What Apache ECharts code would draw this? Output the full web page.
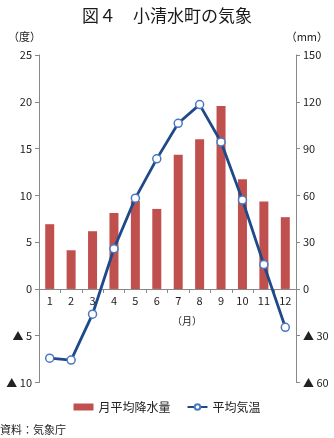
<!DOCTYPE html>
<html><head><meta charset="utf-8">
<script src="https://cdn.jsdelivr.net/npm/echarts@6/dist/echarts.min.js"></script>
<style>html,body{margin:0;padding:0;background:#fff}#c{width:334px;height:438px}</style>
</head><body><div id="c"></div>
<script>
const months = ['1','2','3','4','5','6','7','8','9','10','11','12'];
const precipitation = [41.5, 24.8, 37, 48.7, 56.4, 51.3, 86, 96, 117.3, 70.3, 56, 46];
const temperature = [-7.4, -7.6, -2.7, 4.3, 9.7, 13.9, 17.7, 19.7, 15.7, 9.5, 2.6, -4.1];
const tempTicks = {min: -10, max: 25, interval: 5};
const rainTicks = {min: -60, max: 150, interval: 30};

const FONT = '"Noto Sans CJK JP", "Noto Sans", sans-serif';
const neg = v => v < 0 ? '▲ ' + Math.abs(v) : String(v);
const GRID_TOP = 55, GRID_BOTTOM = 55.5, H = 438;
const gridH = H - GRID_TOP - GRID_BOTTOM;
const zeroOffset = -gridH * (0 - tempTicks.min) / (tempTicks.max - tempTicks.min);
const chart = echarts.init(document.getElementById('c'), null, {renderer: 'canvas'});
chart.setOption({
  animation: false,
  textStyle: {fontFamily: FONT},
  title: {text: '図４　小清水町の気象', left: 'center', top: 2,
    textStyle: {fontFamily: FONT, fontSize: 17, fontWeight: 'normal', color: '#1a1a1a'}},
  grid: {left: 39, right: 38, top: GRID_TOP, bottom: GRID_BOTTOM, containLabel: false},
  legend: {bottom: 20, left: 'center', itemGap: 16, itemWidth: 20, itemHeight: 7,
    textStyle: {fontFamily: FONT, fontSize: 12, color: '#222'},
    data: [{name: '月平均降水量', icon: 'rect'}, {name: '平均気温'}]},
  xAxis: {type: 'category', data: months, boundaryGap: true, offset: zeroOffset,
    axisLine: {onZero: false, lineStyle: {color: '#888', width: 1}},
    axisTick: {show: true, length: 4, lineStyle: {color: '#888'}},
    axisLabel: {fontFamily: FONT, fontSize: 11, color: '#222', margin: 6}},
  yAxis: [
    {type: 'value', min: tempTicks.min, max: tempTicks.max, interval: tempTicks.interval,
     splitLine: {show: false},
     axisLine: {show: true, onZero: false, lineStyle: {color: '#888'}},
     axisTick: {show: true, length: 4, lineStyle: {color: '#888'}},
     axisLabel: {formatter: neg, fontFamily: FONT, fontSize: 11, color: '#222', margin: 7}},
    {type: 'value', min: rainTicks.min, max: rainTicks.max, interval: rainTicks.interval,
     splitLine: {show: false},
     axisLine: {show: true, onZero: false, lineStyle: {color: '#888'}},
     axisTick: {show: true, length: 4, lineStyle: {color: '#888'}},
     axisLabel: {formatter: neg, fontFamily: FONT, fontSize: 11, color: '#222', margin: 7}}
  ],
  series: [
    {name: '月平均降水量', type: 'bar', yAxisIndex: 1, data: precipitation, barWidth: 9,
     itemStyle: {color: '#C0504D'}},
    {name: '平均気温', type: 'line', yAxisIndex: 0, data: temperature, z: 5,
     symbol: 'circle', symbolSize: 8,
     lineStyle: {color: '#1F4A8A', width: 2.8},
     itemStyle: {color: '#fff', borderColor: '#4A78C0', borderWidth: 1.5}}
  ],
  graphic: [
    {type: 'text', left: 8, top: 31, style: {text: '（度）', font: '11px ' + FONT, fill: '#222'}},
    {type: 'text', right: 6, top: 31, style: {text: '（mm）', font: '11px ' + FONT, fill: '#222'}},
    {type: 'text', left: 172, top: 316, style: {text: '（月）', font: '10px ' + FONT, fill: '#222'}},
    {type: 'text', left: 0, top: 424, style: {text: '資料：気象庁', font: '11px ' + FONT, fill: '#222'}}
  ]
});
</script></body></html>
